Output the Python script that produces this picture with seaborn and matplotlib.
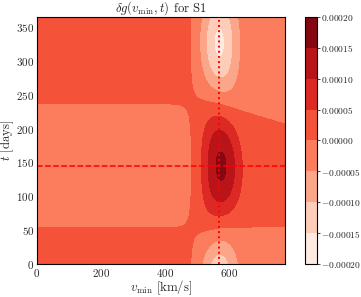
import math

import numpy as np
import matplotlib
matplotlib.use("Agg")
import matplotlib.pyplot as plt
import seaborn as sns
from matplotlib.ticker import AutoMinorLocator, FuncFormatter

# stream S1, values
v_stream = 570.0      # km/s, dotted line
t_peak = 145.0        # days, dashed line
dv_mod = 10.9         # km/s, annual swing of the stream speed
sigma = 44.0          # km/s, stream dispersion
norm_mod = 0.7        # how much of the swing enters the 1/u prefactor
year = 365.0

# extra phase drift (days) of the modulation at high v_min
phase_v = [0.0, 570.0, 775.0]
phase_dt = [0.0, 0.0, -14.0]

levels = [-0.0002, -0.00015, -0.0001, -0.00005, 0.0,
          0.00005, 0.0001, 0.00015, 0.0002]

v_min = np.linspace(0, 775, 311)
t_days = np.arange(0, 366)

# Set style
sns.set_theme(style="ticks")
plt.rcParams.update({
    "font.family": "serif",
    "font.serif": ["cmr10"],
    "mathtext.fontset": "cm",
    "axes.unicode_minus": False,
    "axes.formatter.use_mathtext": True,
    "font.size": 8,
    "xtick.direction": "in",
    "ytick.direction": "in",
    "xtick.top": True,
    "ytick.right": True,
    "xtick.minor.visible": True,
    "ytick.minor.visible": True,
    "axes.edgecolor": "black",
    "axes.linewidth": 0.8,
})

erf = np.frompyfunc(math.erf, 1, 1)


def g_stream(v, u):
    s = np.sqrt(2) * sigma
    u_norm = v_stream + norm_mod * (u - v_stream)
    return (erf((v + u) / s) - erf((v - u) / s)).astype(float) / (2 * u_norm)


def cb_label(x, _):
    # {-} keeps the minus sign tight against the number
    return f"${x:.5f}$".replace("$-", "${-}")


V, T = np.meshgrid(v_min, t_days)
shift = np.interp(V, phase_v, phase_dt)
U = v_stream + dv_mod * np.cos(2 * np.pi * (T - t_peak - shift) / year)
G = g_stream(V, U)
dG = G - G[:-1].mean(axis=0)

fig = plt.figure(figsize=(3.61, 2.97), dpi=100)
ax = fig.add_axes([0.1025, 0.111, 0.687, 0.832])
cax = fig.add_axes([0.845, 0.111, 0.0324, 0.832])

cs = ax.contourf(V, T, dG, levels=levels, cmap="Reds")
ax.axvline(v_stream, color="red", ls=":", lw=1.4)
ax.axhline(t_peak, color="red", ls="--", lw=1.1)

ax.set_xlim(0, 775)
ax.set_ylim(0, 365)
ax.set_xticks([0, 200, 400, 600])
ax.set_yticks([0, 50, 100, 150, 200, 250, 300, 350])
ax.xaxis.set_minor_locator(AutoMinorLocator())
ax.yaxis.set_minor_locator(AutoMinorLocator())
ax.tick_params(labelsize=8, length=3, width=0.6, pad=2)
ax.tick_params(which="minor", length=1.5, width=0.5)
ax.set_title(r"$\delta g(v_{\rm min},t)$ for S1", fontsize=9.2, pad=3)
ax.set_xlabel(r"$v_{\rm min}$ [km/s]", fontsize=9.2, labelpad=0)
ax.set_ylabel(r"$t$ [days]", fontsize=9.2, labelpad=0)

cb = fig.colorbar(cs, cax=cax, ticks=levels, format=FuncFormatter(cb_label))
cb.ax.tick_params(which="both", direction="out", right=True, top=False,
                  labelsize=6.8, length=2, width=0.6, pad=1)
cb.ax.minorticks_off()
cb.outline.set_linewidth(0.8)

fig.savefig("out.png", dpi=100)
plt.close(fig)
